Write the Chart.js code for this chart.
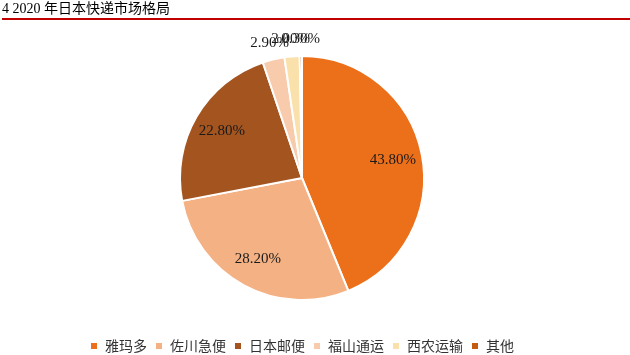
<!DOCTYPE html>
<html>
<head>
<meta charset="utf-8">
<script src="https://cdn.jsdelivr.net/npm/chart.js@4"></script>
<style>
  html, body { margin: 0; padding: 0; background: #fff; }
  #wrap { position: relative; width: 630px; height: 355px; }
  #title {
    position: absolute; left: 2px; top: 0; width: 628px; height: 18px;
    font: 14px "Liberation Serif", "Noto Sans CJK SC", serif; color: #000;
    line-height: 17px; border-bottom: 2px solid #C00000;
  }
  canvas { position: absolute; left: 0; top: 0; }
</style>
</head>
<body>
<div id="wrap">
  <canvas id="pieChart" width="630" height="355"></canvas>
  <div id="title">4 2020 年日本快递市场格局</div>
</div>
<script>
// 2020 年日本快递市场份额 (%)
const companies = ['雅玛多', '佐川急便', '日本邮便', '福山通运', '西农运输', '其他'];
const shares = [43.8, 28.2, 22.8, 2.9, 2.0, 0.3];
const colors = ['#EC6F1A', '#F4B183', '#A3541F', '#F8CBAD', '#FAE1AB', '#C55A11'];

// 百分比标签
const pctLabels = {
    id: 'pctLabels',
    afterDatasetsDraw(chart) {
        const ctx = chart.ctx;
        const arcs = chart.getDatasetMeta(0).data;
        ctx.save();
        ctx.font = '15px "Liberation Serif", serif';
        ctx.fillStyle = '#1a1a1a';
        ctx.textAlign = 'center';
        ctx.textBaseline = 'middle';
        arcs.forEach((arc, i) => {
            const p = arc.getProps(['x', 'y', 'startAngle', 'endAngle', 'outerRadius'], true);
            const mid = (p.startAngle + p.endAngle) / 2;
            const r = shares[i] < 5 ? p.outerRadius * 1.14 : p.outerRadius * 0.76;
            ctx.fillText(shares[i].toFixed(2) + '%', p.x + Math.cos(mid) * r, p.y + Math.sin(mid) * r);
        });
        ctx.restore();
    }
};

const ctx = document.getElementById('pieChart').getContext('2d');
const pieChart = new Chart(ctx, {
    type: 'pie',
    data: {
        labels: companies,
        datasets: [{
            data: shares,
            backgroundColor: colors,
            borderColor: '#ffffff',
            borderWidth: 2,
            radius: 122
        }]
    },
    options: {
        responsive: false,
        animation: false,
        layout: { padding: { top: 25, right: 26, bottom: -8, left: 0 } },
        plugins: {
            legend: {
                position: 'bottom',
                labels: {
                    boxWidth: 8,
                    boxHeight: 8,
                    padding: 8,
                    color: '#333',
                    font: { size: 14, family: '"Noto Sans CJK SC", sans-serif' }
                }
            },
            tooltip: { enabled: false }
        }
    },
    plugins: [pctLabels]
});
</script>
</body>
</html>
